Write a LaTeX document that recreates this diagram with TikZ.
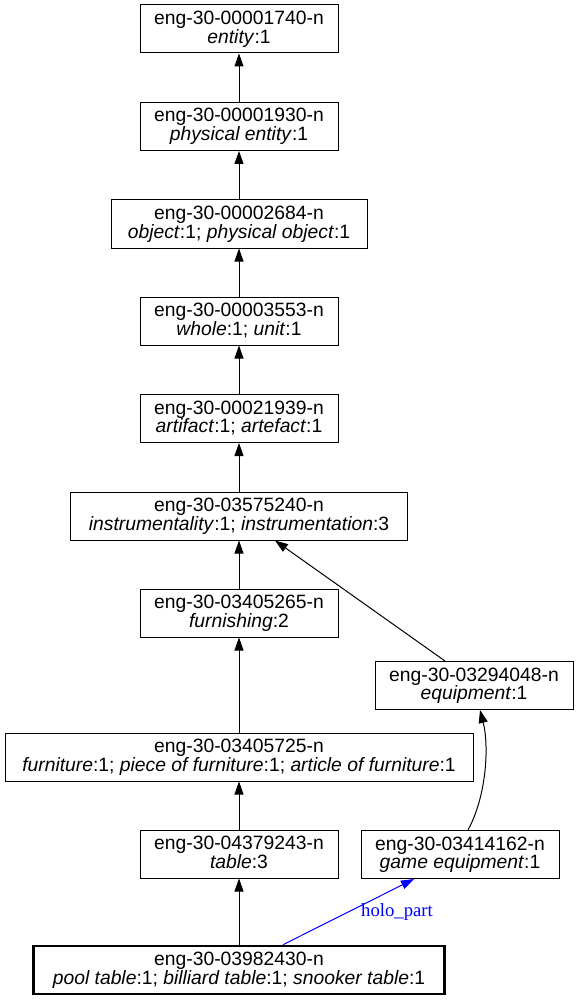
\documentclass[tikz,border=0pt]{standalone}
\usepackage{fontspec}
\setmainfont{Liberation Sans}
\newfontfamily\lblfont{Liberation Serif}
\usetikzlibrary{arrows.meta}
\newcommand{\twol}[2]{\raisebox{4.5pt}[0pt][0pt]{\vtop{\baselineskip=18.7pt\lineskiplimit=-1000pt\halign{\hfil##\hfil\cr#1\cr#2\cr}}}}
\begin{document}
\begin{tikzpicture}[x=1pt,y=-1pt,
  syn/.style={draw=black, line width=1pt, minimum height=48pt, minimum width=198pt, inner sep=0pt, font=\fontsize{19.3}{18.7}\selectfont},
  focus/.style={syn, line width=2.6pt},
  hyp/.style={draw=black, line width=1pt, -{Triangle[length=13pt,width=9pt]}},
  holo/.style={draw=blue, line width=1pt, -{Triangle[length=13pt,width=9pt]}, fill=none},
  lbl/.style={text=blue, inner sep=0pt, font=\lblfont\fontsize{18.7}{20}\selectfont}]
\useasboundingbox (0,0) rectangle (578,1000);
\node[syn] (n1740) at (239,29) {\twol{eng-30-00001740-n}{\textit{entity}:1}};
\node[syn] (n1930) at (239,126.5) {\twol{eng-30-00001930-n}{\textit{physical entity}:1}};
\node[syn, minimum width=256pt] (n2684) at (239,224) {\twol{eng-30-00002684-n}{\textit{object}:1; \textit{physical object}:1}};
\node[syn] (n3553) at (239,321) {\twol{eng-30-00003553-n}{\textit{whole}:1; \textit{unit}:1}};
\node[syn] (n21939) at (239,418.5) {\twol{eng-30-00021939-n}{\textit{artifact}:1; \textit{artefact}:1}};
\node[syn, minimum width=337pt] (n3575240) at (239,516) {\twol{eng-30-03575240-n}{\textit{instrumentality}:1; \textit{instrumentation}:3}};
\node[syn] (n3405265) at (239,613) {\twol{eng-30-03405265-n}{\textit{furnishing}:2}};
\node[syn] (n3294048) at (474,685.5) {\twol{eng-30-03294048-n}{\textit{equipment}:1}};
\node[syn, minimum width=468pt] (n3405725) at (239,757) {\twol{eng-30-03405725-n}{\textit{furniture}:1; \textit{piece of furniture}:1; \textit{article of furniture}:1}};
\node[syn] (n4379243) at (239,854) {\twol{eng-30-04379243-n}{\textit{table}:3}};
\node[syn] (n3414162) at (460,854.5) {\twol{eng-30-03414162-n}{\textit{game equipment}:1}};
\node[focus, minimum width=411pt] (n3982430) at (239,970) {\twol{eng-30-03982430-n}{\textit{pool table}:1; \textit{billiard table}:1; \textit{snooker table}:1}};
\node[lbl] (hp) at (397,912) {holo\_part};
\draw[hyp] (n1930) -- (n1740);
\draw[hyp] (n2684) -- (n1930);
\draw[hyp] (n3553) -- (n2684);
\draw[hyp] (n21939) -- (n3553);
\draw[hyp] (n3575240) -- (n21939);
\draw[hyp] (n3405265) -- (n3575240);
\draw[hyp] ([xshift=-29pt]n3294048.north) -- ([xshift=36pt]n3575240.south);
\draw[hyp] (n3405725) -- (n3405265);
\draw[hyp] (n4379243) -- (n3405725);
\draw[hyp] ([xshift=8pt]n3414162.north) .. controls (487,795) and (489,745) .. ([xshift=6pt]n3294048.south);
\draw[hyp] (n3982430) -- (n4379243);
\draw[holo] ([xshift=44pt]n3982430.north) -- ([xshift=-46pt]n3414162.south);
\end{tikzpicture}
\end{document}
